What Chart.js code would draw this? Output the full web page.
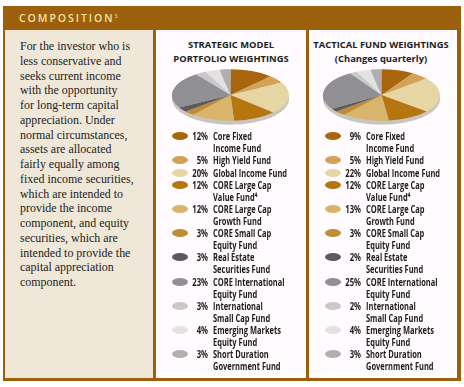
<!DOCTYPE html>
<html><head><meta charset="utf-8">
<style>
html,body{margin:0;padding:0;background:#fff;}
body{width:464px;height:387px;position:relative;overflow:hidden;}
.frame{position:absolute;left:3px;top:6px;width:458px;height:375px;background:#9c5f0c;}
.head{position:absolute;left:19px;top:11px;color:#f6e2a8;font:600 10.5px/14px "Open Sans",sans-serif;letter-spacing:1.95px;}
.head sup{font-size:5px;letter-spacing:0;vertical-align:4px;line-height:0;}
.left{position:absolute;left:5px;top:30px;width:148px;height:348px;background:#efe8d9;box-sizing:border-box;padding:9px 0 0 15px;font:11.95px/14.75px "Liberation Serif",serif;color:#222;white-space:pre;}
.panel{position:absolute;top:30px;height:348px;background:#fffbff;}
#p1{left:156px;width:150px;}
#p2{left:309px;width:148px;}
.title{position:absolute;left:0;right:0;text-align:center;font:bold 9.4px/14px "Open Sans",sans-serif;color:#222;top:8px;white-space:pre;}
#p2 .title{left:-2px;right:2px;}
canvas{position:absolute;left:0;top:0;}
#c2{left:-2px;}
.item{position:absolute;left:0;font:bold 10.4px/12px "Open Sans",sans-serif;color:#1f1a18;white-space:pre;}
.item .sw{position:absolute;left:16px;top:2px;width:16px;height:8px;border-radius:50%;}
.item .pct{position:absolute;left:24px;width:28px;text-align:right;transform:scaleX(.74);transform-origin:right top;}
.item .lab{position:absolute;left:57px;transform:scaleX(.72);transform-origin:left top;}
</style>
</head><body>
<div class="frame"></div>
<div class="head">COMPOSITION<sup>3</sup></div>
<div class="left" id="blurb"></div>
<div class="panel" id="p1"><div class="title" id="t1"></div><canvas id="c1" width="149" height="130"></canvas></div>
<div class="panel" id="p2"><div class="title" id="t2"></div><canvas id="c2" width="149" height="130"></canvas></div>
<script src="https://cdn.jsdelivr.net/npm/chart.js@4"></script>
<script>
const funds = ["Core Fixed\nIncome Fund","High Yield Fund","Global Income Fund","CORE Large Cap\nValue Fund⁴","CORE Large Cap\nGrowth Fund","CORE Small Cap\nEquity Fund","Real Estate\nSecurities Fund","CORE International\nEquity Fund","International\nSmall Cap Fund","Emerging Markets\nEquity Fund","Short Duration\nGovernment Fund"];
const strategicValues = [12,5,20,12,12,3,3,23,3,4,3];
const tacticalValues = [9,5,22,12,13,3,2,25,2,4,3];
const colors = ["#a8650c","#d3a257","#e6d6a3","#b5750f","#d8b46c","#c08c35","#5c5a5c","#8f8f94","#c9c9c9","#e3e2e2","#b0aeae"];
const strategicTitle = "STRATEGIC MODEL\nPORTFOLIO WEIGHTINGS";
const tacticalTitle = "TACTICAL FUND WEIGHTINGS\n(Changes quarterly)";
const blurbLines = "For the investor who is\nless conservative and\nseeks current income\nwith the opportunity\nfor long-term capital\nappreciation. Under\nnormal circumstances,\nassets are allocated\nfairly equally among\nfixed income securities,\nwhich are intended to\nprovide the income\ncomponent, and equity\nsecurities, which are\nintended to provide the\ncapital appreciation\ncomponent.";
const squash = 0.44;
document.getElementById('blurb').textContent = blurbLines;
document.getElementById('t1').textContent = strategicTitle;
document.getElementById('t2').textContent = tacticalTitle;

const squashPlugin = {
  id:'squash',
  beforeDatasetsDraw(chart){
    const arc = chart.getDatasetMeta(0).data[0];
    const c = chart.ctx, cx = arc.x, cy = arc.y, r = arc.outerRadius;
    c.save();
    c.translate(cx, cy); c.scale(1, squash); c.translate(-cx, -cy);
    c.save();
    c.translate(0, 4/squash);
    c.beginPath(); c.arc(cx, cy, r, 0, Math.PI*2);
    c.fillStyle = '#c9c6c0'; c.fill();
    c.restore();
  },
  afterDatasetsDraw(chart){ chart.ctx.restore(); }
};
function pie(id, values){
  new Chart(document.getElementById(id), {
    type:'pie',
    data:{labels:funds, datasets:[{data:values, backgroundColor:colors, borderWidth:0}]},
    options:{responsive:false, animation:false,
      layout:{padding:{left:16,right:16,top:5,bottom:5}},
      plugins:{legend:{display:false},tooltip:{enabled:false}}},
    plugins:[squashPlugin]
  });
}
pie('c1', strategicValues);
pie('c2', tacticalValues);

function legend(panelId, values){
  const p = document.getElementById(panelId);
  let y = 100;
  funds.forEach((f,i)=>{
    const d = document.createElement('div');
    d.className='item'; d.style.top=y+'px';
    const sw=document.createElement('span'); sw.className='sw'; sw.style.background=colors[i];
    const pc=document.createElement('span'); pc.className='pct'; pc.textContent=values[i]+'%';
    const lb=document.createElement('span'); lb.className='lab'; lb.textContent=f;
    d.append(sw,pc,lb); p.append(d);
    y += f.includes('\n') ? 24.1 : 12.5;
  });
}
legend('p1', strategicValues);
legend('p2', tacticalValues);
</script>
</body></html>
